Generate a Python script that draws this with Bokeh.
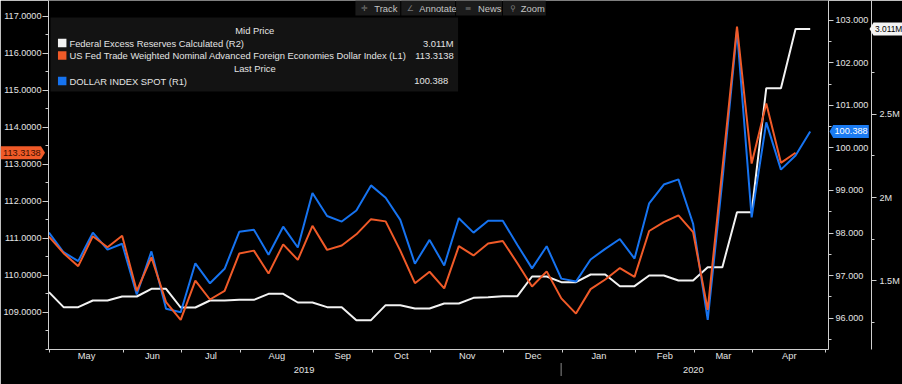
from bokeh.plotting import figure
from bokeh.models import (Range1d, LinearAxis, FixedTicker, NumeralTickFormatter,
                          CustomJSTickFormatter, BoxAnnotation, Label)
from bokeh.embed import file_html
from bokeh.resources import INLINE

# ---------------- data ----------------
months = ["May", "Jun", "Jul", "Aug", "Sep", "Oct", "Nov", "Dec", "Jan", "Feb", "Mar", "Apr"]
month_breaks = [0, 5, 9, 13, 18, 22, 26, 31, 35, 40, 44, 48, 53]   # week index where each month starts
years = ["2019", "2020"]
year_breaks = [0, 35, 53]

fed_trade = [111.05, 110.60, 110.25, 111.06, 110.76, 111.07, 109.58, 110.49, 109.28, 108.80,
             109.86, 109.35, 109.58, 110.59, 110.67, 110.05, 110.84, 110.42, 111.34, 110.69,
             110.81, 111.11, 111.52, 111.46, 110.67, 109.79, 110.10, 109.65, 110.79, 110.54,
             110.86, 110.93, 110.33, 109.70, 110.11, 109.38, 108.97, 109.63, 109.89, 110.20,
             109.96, 111.20, 111.44, 111.62, 111.17, 109.07, 112.88, 116.72, 113.02, 114.64,
             113.04, 113.3138]
dxy = [98.01, 97.55, 97.34, 98.01, 97.61, 97.75, 96.56, 97.57, 96.22, 96.14,
       97.29, 96.82, 97.16, 98.03, 98.08, 97.49, 98.15, 97.66, 98.94, 98.40,
       98.27, 98.53, 99.12, 98.83, 98.31, 97.28, 97.84, 97.24, 98.35, 98.01,
       98.29, 98.29, 97.72, 97.17, 97.69, 96.93, 96.86, 97.38, 97.63, 97.86,
       97.40, 98.70, 99.14, 99.26, 98.22, 95.96, 99.23, 102.76, 98.37, 100.60,
       99.49, 99.82, 100.388]
reserves_m = [1.432, 1.342, 1.342, 1.382, 1.382, 1.406, 1.406, 1.452, 1.452, 1.340,
              1.340, 1.382, 1.382, 1.386, 1.386, 1.422, 1.422, 1.370, 1.370, 1.342,
              1.342, 1.264, 1.264, 1.354, 1.354, 1.334, 1.334, 1.364, 1.364, 1.398,
              1.402, 1.408, 1.408, 1.526, 1.526, 1.492, 1.492, 1.538, 1.538, 1.468,
              1.468, 1.532, 1.532, 1.502, 1.502, 1.582, 1.582, 1.912, 1.912, 2.656,
              2.656, 3.011, 3.011]

name_res = "Federal Excess Reserves Calculated  (R2)"
name_trade = "US Fed Trade Weighted Nominal Advanced Foreign Economies Dollar Index  (L1)"
name_dxy = "DOLLAR INDEX SPOT  (R1)"

# ---------------- style ----------------
FONT = "Liberation Sans"
FS_AX = "9.1px"
FS = "9.4px"
TXT = "#e4e4e4"
AX = "#cfcfcf"
C_RES, C_TRADE, C_DXY = "#f2f2f2", "#f05a28", "#1673f0"

W, H = 902, 384
FL, FR, FT, FB = 45.0, 827.7, 0.0, 349.0     # frame edges in pixels

xr = Range1d(-0.03, 53.25)
yr = Range1d(108.0, 117.424)
r1 = Range1d(95.265, 103.463)
r2 = Range1d(1.088, 3.182)

p = figure(width=W, height=H, output_backend="svg", toolbar_location=None,
           x_range=xr, y_range=yr, x_axis_type=None, y_axis_type=None,
           background_fill_color="black", border_fill_color="black",
           outline_line_color=None,
           min_border_left=round(FL), min_border_right=W - round(FR),
           min_border_top=0, min_border_bottom=H - round(FB))
p.extra_y_ranges = {"r1": r1, "r2": r2}


def X(px):
    return xr.start + (px - FL) / (FR - FL) * (xr.end - xr.start)


def Y(py):
    return yr.end - (py - FT) / (FB - FT) * (yr.end - yr.start)


def PX(k):
    return FL + (k - xr.start) / (xr.end - xr.start) * (FR - FL)


def PY(v, rng):
    return FT + (rng.end - v) / (rng.end - rng.start) * (FB - FT)


def style_axis(ax, tick_out=5, minor_out=3, standoff=2):
    ax.axis_line_color = AX
    ax.major_tick_line_color = AX
    ax.minor_tick_line_color = AX
    ax.major_tick_out = tick_out
    ax.major_tick_in = 0
    ax.minor_tick_out = minor_out
    ax.minor_tick_in = 0
    ax.major_label_text_color = TXT
    ax.major_label_text_font = FONT
    ax.major_label_text_font_size = FS_AX
    ax.major_label_standoff = standoff


# left axis (L1)
ax_l = LinearAxis(ticker=FixedTicker(ticks=list(range(109, 118)),
                                     minor_ticks=[108 + 0.5 * i for i in range(20)]),
                  formatter=NumeralTickFormatter(format="0.0000"))
style_axis(ax_l, 6, 3, 1)
p.add_layout(ax_l, "left")

# right axis R1
ax_r1 = LinearAxis(y_range_name="r1",
                   ticker=FixedTicker(ticks=list(range(96, 104)),
                                      minor_ticks=[95.5 + i for i in range(8)]),
                   formatter=NumeralTickFormatter(format="0.000"))
style_axis(ax_r1, 5, 3, 2)
p.add_layout(ax_r1, "right")

# right axis R2
ax_r2 = LinearAxis(y_range_name="r2",
                   ticker=FixedTicker(ticks=[1.5, 2.0, 2.5], minor_ticks=[1.25, 1.75, 2.25, 2.75]),
                   formatter=CustomJSTickFormatter(code="return tick + 'M';"))
style_axis(ax_r2, 5, 3, 3)
p.add_layout(ax_r2, "right")

# bottom: month boundaries as minor ticks, month names centred between them
off = 0.07
mb = [b + off for b in month_breaks]
mcent = [(mb[i] + mb[i + 1]) / 2 for i in range(len(months))]
ax_m = LinearAxis(ticker=FixedTicker(ticks=mcent, minor_ticks=mb),
                  formatter=CustomJSTickFormatter(args=dict(names=months), code="return names[index];"))
style_axis(ax_m, 0, 3, -2)
ax_m.major_label_text_font_size = "9.3px"
p.add_layout(ax_m, "below")

# ---------------- series ----------------
weeks = list(range(len(dxy)))
p.line(weeks[:len(reserves_m)], reserves_m, y_range_name="r2", line_color=C_RES, line_width=2)
p.line(weeks[:len(dxy)], dxy, y_range_name="r1", line_color=C_DXY, line_width=2)
p.line(weeks[:len(fed_trade)], fed_trade, line_color=C_TRADE, line_width=2)

# ---------------- toolbar look-alike ----------------
btns = [("\u271b", "Track", 353, 398, 362, 372),
        ("\u2220", "Annotate", 399, 453, 408, 417),
        ("\u2261", "News", 454, 500, 466, 476),
        ("\u26b2", "Zoom", 501, 544, 511, 519)]
for icon, txt, l, r, ix, tx in btns:
    p.add_layout(BoxAnnotation(left=X(l), right=X(r), top=Y(0), bottom=Y(15),
                               fill_color="#1b1b1b", fill_alpha=1, line_color=None))
    p.add_layout(Label(x=X(ix), y=Y(7.5), text=icon, text_align="center", text_baseline="middle",
                       text_color="#7a7a7a", text_font="DejaVu Sans", text_font_size="8px"))
    p.add_layout(Label(x=X(tx), y=Y(7.5), text=txt, text_baseline="middle",
                       text_color="#c4c4c4", text_font=FONT, text_font_size=FS))

# ---------------- legend box ----------------
p.add_layout(BoxAnnotation(left=X(47), right=X(456), top=Y(17), bottom=Y(91),
                           fill_color="#131313", fill_alpha=1, line_color=None))
p.add_layout(Label(x=X(252), y=Y(30), text="Mid Price", text_align="center", text_baseline="middle",
                   text_color=TXT, text_font=FONT, text_font_size=FS))
p.add_layout(Label(x=X(252), y=Y(68), text="Last Price", text_align="center", text_baseline="middle",
                   text_color=TXT, text_font=FONT, text_font_size=FS))
rows = [(name_res, f"{reserves_m[-1]:.3f}M", C_RES, 42.5, 451.5),
        (name_trade, f"{fed_trade[-1]:.4f}", C_TRADE, 55, 451.5),
        (name_dxy, f"{dxy[-1]:.3f}", C_DXY, 80.5, 446)]
for nm, val, col, cy, vx in rows:
    p.add_layout(BoxAnnotation(left=X(54.5), right=X(63), top=Y(cy - 4.3), bottom=Y(cy + 4.3),
                               fill_color=col, fill_alpha=1, line_color=None))
    p.add_layout(Label(x=X(66), y=Y(cy), text=nm, text_baseline="middle",
                       text_color=TXT, text_font=FONT, text_font_size=FS))
    p.add_layout(Label(x=X(vx), y=Y(cy), text=val, text_align="right", text_baseline="middle",
                       text_color=TXT, text_font=FONT, text_font_size=FS))

# ---------------- overlay: tags and year row (not clipped to the frame) ----------------
q = figure(width=W, height=H, output_backend="svg", toolbar_location=None,
           x_range=Range1d(0, W), y_range=Range1d(H, 0),
           x_axis_type=None, y_axis_type=None, min_border=0,
           background_fill_alpha=0, border_fill_alpha=0, outline_line_color=None,
           styles={"position": "absolute", "left": "0px", "top": "0px"})

ct = PY(fed_trade[-1], yr)
cd = PY(dxy[-1], r1)
cr = PY(reserves_m[-1], r2)
hh = 6.5
q.patches(xs=[[0, 40.5, FL - 0.5, 40.5, 0],
              [FR + 1.3, FR + 5, 868.3, 868.3, FR + 5],
              [869.0, 873.0, W, W, 873.0]],
          ys=[[ct - hh, ct - hh, ct, ct + hh, ct + hh],
              [cd, cd - hh, cd - hh, cd + hh, cd + hh],
              [cr, cr - hh, cr - hh, cr + hh, cr + hh]],
          fill_color=[C_TRADE, "#1b7bf2", "#f4f4f4"], line_color=None)
q.add_layout(Label(x=2.5, y=ct, text=f"{fed_trade[-1]:.4f}", text_baseline="middle",
                   text_color="#3a1000", text_font=FONT, text_font_size="9.2px"))
q.add_layout(Label(x=834, y=cd, text=f"{dxy[-1]:.3f}", text_baseline="middle",
                   text_color="#ffffff", text_font=FONT, text_font_size="9.2px"))
q.add_layout(Label(x=874.5, y=cr, text=f"{reserves_m[-1]:.3f}M", text_baseline="middle",
                   text_color="#000000", text_font=FONT, text_font_size="8.4px"))

# year row: labels centred on each year's span, separator at the year boundary
yb = [b + off for b in year_breaks]
for i, yname in enumerate(years):
    q.add_layout(Label(x=(PX(yb[i]) + PX(yb[i + 1])) / 2, y=369.5, text=yname, text_align="center",
                       text_baseline="middle", text_color=TXT, text_font=FONT, text_font_size="9.3px"))
q.segment(x0=[PX(yb[1])], y0=[362.5], x1=[PX(yb[1])], y1=[375.5], line_color="#8a8a8a", line_width=1)

open("out.html", "w").write(file_html([p, q], INLINE))
